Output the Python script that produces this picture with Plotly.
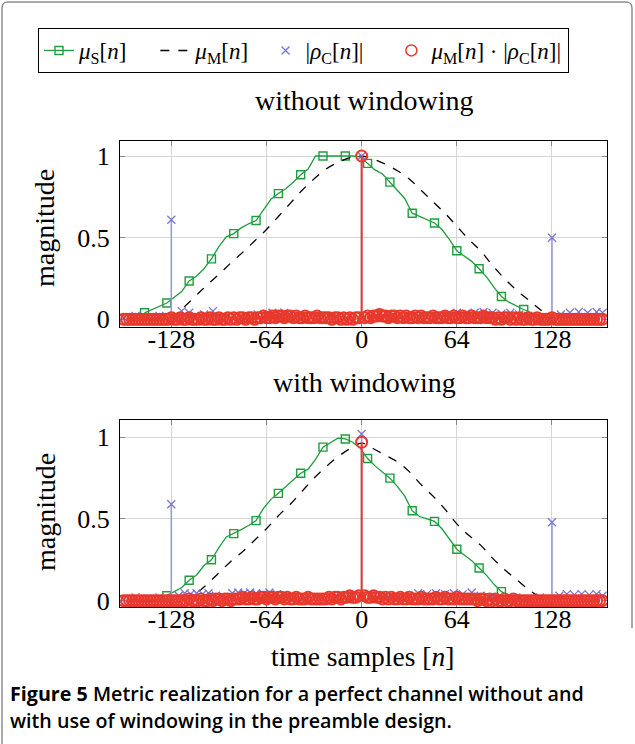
import plotly.graph_objects as go

# mu_S[n] (green), sampled every 5 samples; squares on every 3rd point
n_s_top = list(range(-146, 130, 5))
mu_s_top = [0.04, 0.06, 0.08, 0.10, 0.135, 0.17, 0.235, 0.265, 0.31, 0.37,
            0.445, 0.505, 0.525, 0.56, 0.585, 0.605, 0.67, 0.735, 0.77, 0.80,
            0.84, 0.885, 0.92, 1.0, 1.0, 1.0, 1.0, 1.0, 1.0, 0.995,
            0.955, 0.915, 0.89, 0.84, 0.795, 0.74, 0.65, 0.63, 0.61, 0.59,
            0.55, 0.49, 0.42, 0.39, 0.355, 0.31, 0.26, 0.195, 0.14, 0.105,
            0.08, 0.06, 0.04, 0.02, 0.01, 0.0]
n_s_bot = list(range(-146, 110, 5))
mu_s_bot = [0.0, 0.0, 0.01, 0.03, 0.055, 0.08, 0.125, 0.157, 0.215, 0.25,
            0.325, 0.39, 0.41, 0.435, 0.46, 0.49, 0.565, 0.62, 0.657, 0.70,
            0.74, 0.78, 0.805, 0.865, 0.94, 0.965, 0.995, 0.99, 0.97, 0.935,
            0.87, 0.825, 0.79, 0.75, 0.70, 0.64, 0.55, 0.515, 0.50, 0.485,
            0.44, 0.38, 0.315, 0.28, 0.245, 0.20, 0.155, 0.10, 0.055, 0.03,
            0.015, 0.0]

# mu_M[n] (black dashed)
n_m_top = list(range(-128, 129, 8))
mu_m_top = [0.0, 0.07, 0.14, 0.21, 0.275, 0.345, 0.41, 0.48, 0.55, 0.63, 0.71,
            0.79, 0.86, 0.92, 0.96, 0.99, 1.0, 0.98, 0.95, 0.91, 0.86, 0.79,
            0.72, 0.65, 0.57, 0.49, 0.42, 0.33, 0.25, 0.18, 0.12, 0.06, 0.0]
n_m_bot = list(range(-120, 121, 8))
mu_m_bot = [0.0, 0.04, 0.10, 0.17, 0.24, 0.30, 0.37, 0.44, 0.52, 0.59, 0.67,
            0.75, 0.82, 0.88, 0.93, 0.965, 0.93, 0.89, 0.85, 0.79, 0.71, 0.64,
            0.56, 0.47, 0.40, 0.34, 0.26, 0.19, 0.13, 0.07, 0.02]

# |rho_C[n]| (blue crosses)
n_c_top = [-160, -152, -144, -136, -128, -124, -121, -116, -112, -106, -100,
           -94, -86, -78, -70, -64, -60, -56, -52, -48, -40, -30, -20, -10, 0,
           10, 20, 30, 40, 50, 58, 64, 70, 76, 82, 88, 94, 100, 106, 112, 120,
           128, 134, 140, 146, 152, 158, 162]
rho_c_top = [0.01, 0.02, 0.01, 0.02, 0.61, 0.02, 0.05, 0.04, 0.02, 0.03, 0.05,
             0.01, 0.02, 0.01, 0.03, 0.035, 0.04, 0.035, 0.04, 0.03, 0.02, 0.01,
             0.02, 0.01, 1.0, 0.02, 0.01, 0.02, 0.01, 0.02, 0.03, 0.04, 0.035,
             0.04, 0.045, 0.04, 0.035, 0.04, 0.03, 0.02, 0.01, 0.5, 0.03, 0.04,
             0.045, 0.04, 0.045, 0.04]
n_c_bot = [-160, -152, -144, -136, -128, -123, -119, -115, -111, -107, -103,
           -98, -92, -87, -83, -79, -75, -71, -66, -62, -57, -52, -46, -38, -28,
           -18, -8, 0, 8, 16, 24, 32, 38, 44, 50, 56, 62, 68, 74, 80, 88, 96,
           104, 112, 120, 128, 133, 138, 143, 148, 153, 158, 162]
rho_c_bot = [0.01, 0.02, 0.01, 0.02, 0.59, 0.03, 0.045, 0.04, 0.045, 0.04,
             0.045, 0.03, 0.02, 0.045, 0.05, 0.045, 0.05, 0.045, 0.04, 0.05,
             0.04, 0.035, 0.02, 0.01, 0.02, 0.01, 0.02, 1.02, 0.02, 0.01, 0.02,
             0.03, 0.045, 0.04, 0.045, 0.04, 0.045, 0.04, 0.05, 0.03, 0.02,
             0.01, 0.02, 0.01, 0.02, 0.48, 0.03, 0.04, 0.035, 0.04, 0.035, 0.04,
             0.03]

# mu_M[n] * |rho_C[n]| (red circles), every 2 samples
n_p = list(range(-160, 163, 2))
prod_top = [0, 0, 0, 0, 0, 0, 0, 0, 0, 0, 0, 0, 0, 0, 0, 0, 0.01, 0,
            0, 0.01, 0, 0, 0.01, 0, 0, 0, 0.01, 0, 0, 0.01, 0, 0, 0.01, 0, 0, 0.01,
            0, 0.01, 0, 0.01, 0.01, 0, 0.01, 0.01, 0, 0.01, 0.01, 0.02, 0.01, 0.01, 0.02, 0.01, 0.02, 0.02,
            0.01, 0.02, 0.02, 0.01, 0.02, 0.01, 0.01, 0.02, 0.01, 0.01, 0.01, 0.02, 0.01, 0.01, 0.01, 0.01, 0, 0.01,
            0.01, 0, 0.01, 0, 0.01, 0, 0.01, 0.01, 1.0, 0.01, 0.02, 0.01, 0.02, 0.02, 0.03, 0.02, 0.02, 0.01,
            0.02, 0.02, 0.01, 0.02, 0.01, 0.02, 0.01, 0.01, 0.02, 0.01, 0.02, 0.01, 0.01, 0.01, 0.02, 0.01, 0.01, 0.01,
            0.02, 0.01, 0.01, 0.02, 0.01, 0.01, 0.02, 0.01, 0.01, 0.02, 0.01, 0.01, 0.01, 0.02, 0.01, 0.01, 0.01, 0,
            0.01, 0, 0.01, 0.01, 0, 0.01, 0, 0.01, 0, 0, 0.01, 0, 0, 0.01, 0, 0, 0, 0,
            0.01, 0, 0, 0, 0, 0, 0, 0, 0, 0, 0, 0, 0, 0, 0, 0, 0, 0]
prod_bot = [0, 0, 0, 0, 0, 0, 0, 0, 0, 0, 0, 0, 0, 0, 0, 0, 0, 0,
            0, 0, 0, 0, 0.01, 0, 0, 0, 0.01, 0, 0, 0.01, 0, 0.01, 0.01, 0, 0.01, 0.01,
            0, 0.01, 0.01, 0.01, 0.02, 0.01, 0.01, 0.02, 0.01, 0.01, 0.02, 0.02, 0.01, 0.02, 0.02, 0.01, 0.02, 0.02,
            0.01, 0.02, 0.01, 0.01, 0.02, 0.01, 0.01, 0.01, 0.02, 0.01, 0.01, 0.01, 0.01, 0.01, 0.01, 0.02, 0.01, 0.02,
            0.02, 0.01, 0.02, 0.02, 0.03, 0.02, 0.02, 0.03, 0.97, 0.03, 0.02, 0.02, 0.03, 0.02, 0.02, 0.01, 0.02, 0.01,
            0.02, 0.01, 0.01, 0.02, 0.01, 0.01, 0.02, 0.01, 0.01, 0.01, 0.02, 0.01, 0.01, 0.01, 0.01, 0.02, 0.01, 0.01,
            0.02, 0.01, 0.01, 0.01, 0.02, 0.01, 0.01, 0.01, 0.01, 0.01, 0.01, 0, 0.01, 0.01, 0, 0.01, 0, 0.01,
            0, 0, 0.01, 0, 0, 0.01, 0, 0, 0, 0, 0, 0, 0, 0, 0, 0, 0, 0,
            0, 0, 0, 0, 0, 0, 0, 0, 0, 0, 0, 0, 0, 0, 0, 0, 0, 0]

x_ticks = [-128, -64, 0, 64, 128]
x_ticktext = ["-128", "-64", "0", "64", "128"]
y_ticks = [0, 0.5, 1]
y_ticktext = ["0", "0.5", "1"]

GREEN = "#1e9e3e"
BLUE = "#7777d4"
RED = "#e8392c"
SERIF = "Liberation Serif"
W, H = 635, 744
SP = "&nbsp;"


def px(x):
    return x / W


def py(y):
    return 1 - y / H


fig = go.Figure()


def add_panel(xa, ya, n_s, mu_s, n_m, mu_m, n_c, rho_c, prod):
    fig.add_trace(go.Scatter(x=n_s, y=mu_s, mode="lines", line=dict(color=GREEN, width=1.3),
                             xaxis=xa, yaxis=ya, showlegend=False))
    fig.add_trace(go.Scatter(x=n_s[::3], y=mu_s[::3], mode="markers",
                             marker=dict(symbol="square-open", size=8, color=GREEN, line=dict(width=1.4)),
                             xaxis=xa, yaxis=ya, showlegend=False))
    fig.add_trace(go.Scatter(x=n_m, y=mu_m, mode="lines", line=dict(color="black", width=1.3, dash="dash", shape="spline"),
                             xaxis=xa, yaxis=ya, showlegend=False))
    fig.add_trace(go.Scatter(x=n_c, y=rho_c, mode="markers",
                             marker=dict(symbol="x-thin", size=8, color=BLUE, line=dict(width=1.3, color=BLUE)),
                             error_y=dict(type="data", symmetric=False, array=[0] * len(rho_c), arrayminus=rho_c,
                                          width=0, thickness=1.6, color="#9999dd"),
                             xaxis=xa, yaxis=ya, showlegend=False))
    fig.add_trace(go.Scatter(x=n_p, y=prod, mode="markers",
                             marker=dict(symbol="circle-open", size=11, color=RED, line=dict(width=2, color=RED)),
                             error_y=dict(type="data", symmetric=False, array=[0] * len(prod), arrayminus=prod,
                                          width=0, thickness=2, color=RED),
                             xaxis=xa, yaxis=ya, showlegend=False))


add_panel("x", "y", n_s_top, mu_s_top, n_m_top, mu_m_top, n_c_top, rho_c_top, prod_top)
add_panel("x2", "y2", n_s_bot, mu_s_bot, n_m_bot, mu_m_bot, n_c_bot, rho_c_bot, prod_bot)

# legend entries
fig.add_trace(go.Scatter(x=[None], y=[None], mode="lines+markers",
                         name="<i>μ</i><sub>S</sub>[<i>n</i>]" + SP * 4,
                         line=dict(color=GREEN, width=1.3),
                         marker=dict(symbol="square-open", size=8, color=GREEN, line=dict(width=1.4))))
fig.add_trace(go.Scatter(x=[None], y=[None], mode="lines",
                         name="<i>μ</i><sub>M</sub>[<i>n</i>]" + SP * 2,
                         line=dict(color="black", width=1.6, dash="dash")))
fig.add_trace(go.Scatter(x=[None], y=[None], mode="markers",
                         name="|<i>ρ</i><sub>C</sub>[<i>n</i>]|" + SP * 4,
                         marker=dict(symbol="x-thin", size=8, color=BLUE, line=dict(width=1.3, color=BLUE))))
fig.add_trace(go.Scatter(x=[None], y=[None], mode="markers",
                         name="<i>μ</i><sub>M</sub>[<i>n</i>] · |<i>ρ</i><sub>C</sub>[<i>n</i>]|",
                         marker=dict(symbol="circle-open", size=11, color=RED, line=dict(width=1.5, color=RED))))

xdom = [px(120), px(607)]
axis_common = dict(showline=True, linecolor="black", linewidth=1, mirror="ticks", ticks="inside",
                   ticklen=5, tickcolor="#888888", showgrid=True, gridcolor="#d6d6d6", gridwidth=1,
                   zeroline=False, layer="below traces", automargin=False,
                   tickfont=dict(family=SERIF, size=26, color="black"))

fig.update_layout(
    template="none",
    width=W, height=H,
    margin=dict(l=0, r=0, t=0, b=0, autoexpand=False),
    paper_bgcolor="white", plot_bgcolor="white",
    xaxis=dict(domain=xdom, range=[-162.5, 165], tickvals=x_ticks, ticktext=x_ticktext,
               anchor="y", ticklabelstandoff=-11, **axis_common),
    yaxis=dict(domain=[py(327), py(141)], range=[-0.047, 1.092], tickvals=y_ticks,
               ticktext=y_ticktext, anchor="x", ticklabelstandoff=4, **axis_common),
    xaxis2=dict(domain=xdom, range=[-162.5, 165], tickvals=x_ticks, ticktext=x_ticktext,
                anchor="y2", ticklabelstandoff=-11, **axis_common),
    yaxis2=dict(domain=[py(607), py(420)], range=[-0.039, 1.106], tickvals=y_ticks,
                ticktext=y_ticktext, anchor="x2", ticklabelstandoff=4, **axis_common),
    legend=dict(orientation="h", x=px(38), y=py(28), xanchor="left", yanchor="top",
                bordercolor="black", borderwidth=1, bgcolor="white",
                font=dict(family=SERIF, size=23, color="black")),
)

annots = [
    dict(text="without windowing", x=px(364), y=py(100), font=dict(family=SERIF, size=28)),
    dict(text="with windowing", x=px(364), y=py(382), font=dict(family=SERIF, size=28)),
    dict(text="magnitude", x=px(45), y=py(228), textangle=-90, font=dict(family=SERIF, size=28)),
    dict(text="magnitude", x=px(45), y=py(512), textangle=-90, font=dict(family=SERIF, size=28)),
    dict(text="time samples [<i>n</i>]", x=px(362), y=py(656), font=dict(family=SERIF, size=27.5)),
]
for a in annots:
    a["font"]["color"] = "black"
    fig.add_annotation(xref="paper", yref="paper", showarrow=False, xanchor="center", yanchor="middle", **a)

fig.add_annotation(xref="paper", yref="paper", x=px(8), y=py(693), xanchor="left", yanchor="middle",
                   showarrow=False, align="left",
                   text="<b>Figure 5</b> Metric realization for a perfect channel without and",
                   font=dict(family="Open Sans", size=19.7, color="black", weight=600))
fig.add_annotation(xref="paper", yref="paper", x=px(8), y=py(720), xanchor="left", yanchor="middle",
                   showarrow=False, align="left",
                   text="with use of windowing in the preamble design.",
                   font=dict(family="Open Sans", size=19.7, color="black", weight=600))

# page frame
fig.add_shape(type="path", xref="paper", yref="paper",
              path=f"M {px(2)},0 L {px(2)},{py(8)} Q {px(2)},{py(2)} {px(8)},{py(2)} "
                   f"L {px(626)},{py(2)} Q {px(632)},{py(2)} {px(632)},{py(8)} L {px(632)},{py(628)}",
              line=dict(color="#555555", width=1))

fig.write_html("out.html", config={"displayModeBar": False},
               post_script="document.body.style.margin='0';")
